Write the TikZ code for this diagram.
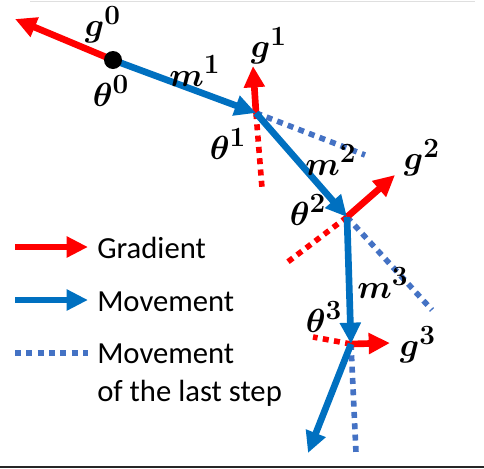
\documentclass[tikz,border=0pt]{standalone}
\usepackage{amsmath}
\usepackage{graphicx}
\usepackage{fontspec}
\setmainfont{Carlito}
\usetikzlibrary{arrows.meta}
\definecolor{gred}{RGB}{255,0,0}
\definecolor{mblue}{RGB}{0,112,192}
\definecolor{dblue}{RGB}{68,114,196}
\newcommand{\bv}[2]{\scalebox{1.45}{$\boldsymbol{#1}^{\boldsymbol{#2}}$}}
\begin{document}
\begin{tikzpicture}[x=0.75pt,y=-0.75pt,
  grad/.style={draw=gred, line width=5pt, -{Triangle[length=16pt,width=15pt]}},
  move/.style={draw=mblue, line width=5pt, -{Triangle[length=16pt,width=15pt]}},
  lastr/.style={draw=gred, line width=4.2pt, dash pattern=on 4.5pt off 4pt},
  lastb/.style={draw=dblue, line width=4.2pt, dash pattern=on 4.5pt off 4pt},
  lbl/.style={font=\fontsize{19}{22}\selectfont, inner sep=0pt},
  legend/.style={font=\fontsize{23}{28}\selectfont, anchor=west, inner sep=0pt, align=left}]
\useasboundingbox (0,0) rectangle (484,468);
\draw[gray!25, line width=0.75pt] (30,1) -- (475,1);
\draw[black!85, line width=1.5pt] (0,467) -- (484,467);
% points
\coordinate (t0) at (113,60);
\coordinate (g0) at (15,19);
\coordinate (t1) at (256,113);
\coordinate (g1) at (253,66);
\coordinate (r1) at (262,188);
\coordinate (b1) at (365,155);
\coordinate (t2) at (347,217);
\coordinate (g2) at (395,175);
\coordinate (r2) at (285,264);
\coordinate (b2) at (432,310);
\coordinate (t3) at (351,344);
\coordinate (g3) at (390,343);
\coordinate (r3) at (313,337);
\coordinate (b3) at (356,453);
\coordinate (m4) at (308,453);
% dotted last-step lines
\draw[lastr] (t1) -- (r1);
\draw[lastb] (t1) -- (b1);
\draw[lastr] (t2) -- (r2);
\draw[lastb] (t2) -- (b2);
\draw[lastr] (t3) -- (r3);
\draw[lastb] (t3) -- (b3);
% gradients
\draw[grad] (t0) -- (g0);
\draw[grad] (t1) -- (g1);
\draw[grad] (t2) -- (g2);
\draw[grad] (t3) -- (g3);
% movements
\draw[move] (t0) -- (t1);
\draw[move] (t1) -- (t2);
\draw[move] (t2) -- (t3);
\draw[move] (t3) -- (m4);
\node[circle, fill=black, minimum size=13.5pt, inner sep=0pt] (dot) at (t0) {};
% labels
\node[lbl] (lg0) at (103,25) {\bv{g}{0}};
\node[lbl] (lt0) at (111,91) {\bv{\theta}{0}};
\node[lbl] (lm1) at (195,71) {\bv{m}{1}};
\node[lbl] (lg1) at (269,46) {\bv{g}{1}};
\node[lbl] (lt1) at (228,144) {\bv{\theta}{1}};
\node[lbl] (lm2) at (331,160) {\bv{m}{2}};
\node[lbl] (lg2) at (422,158) {\bv{g}{2}};
\node[lbl] (lt2) at (308,210) {\bv{\theta}{2}};
\node[lbl] (lm3) at (383,283) {\bv{m}{3}};
\node[lbl] (lt3) at (324,317) {\bv{\theta}{3}};
\node[lbl] (lg3) at (418,345) {\bv{g}{3}};
% legend
\coordinate (la0) at (15,247); \coordinate (la1) at (88,247);
\coordinate (lb0) at (15,300); \coordinate (lb1) at (88,300);
\coordinate (lc0) at (15,353); \coordinate (lc1) at (88,353);
\draw[grad] (la0) -- (la1);
\draw[move] (lb0) -- (lb1);
\draw[lastb] (lc0) -- (lc1);
\node[legend] (tg) at (97,248) {Gradient};
\node[legend] (tm) at (97,302) {Movement};
\node[legend, anchor=north west] (tl) at (97,344) {Movement\\of the last step};
\end{tikzpicture}
\end{document}
